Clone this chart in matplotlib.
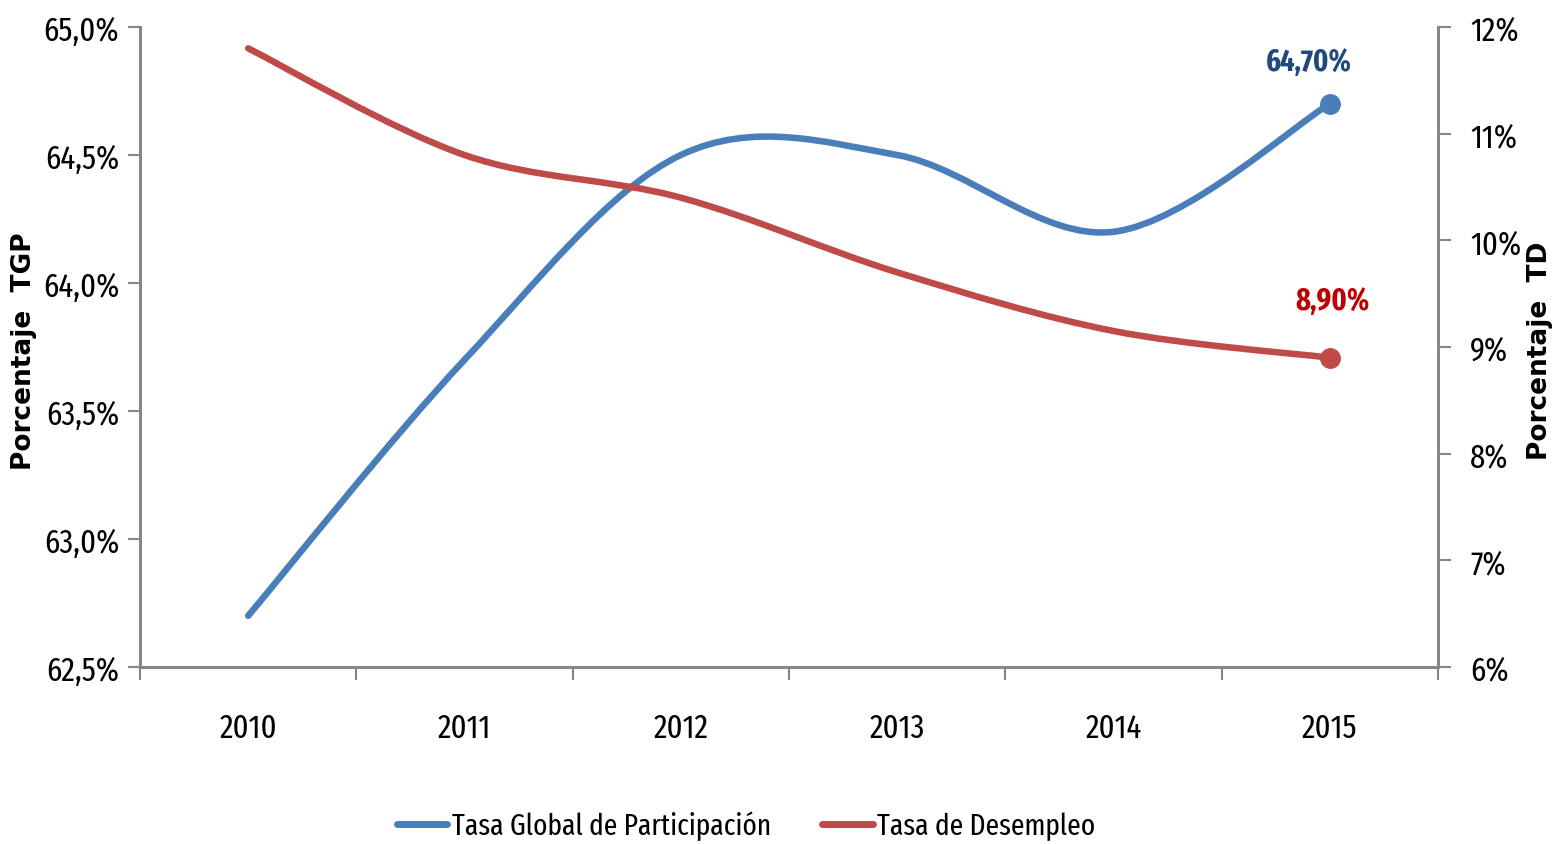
import matplotlib
matplotlib.use("Agg")
import matplotlib.pyplot as plt
from matplotlib.path import Path
from matplotlib.patches import PathPatch
from matplotlib.lines import Line2D
from matplotlib import font_manager as fm

years = ["2010", "2011", "2012", "2013", "2014", "2015"]
tgp = [62.7, 63.7, 64.5, 64.5, 64.2, 64.7]
td = [11.8, 10.8, 10.4, 9.7, 9.15, 8.9]
left_ticks = [62.5, 63.0, 63.5, 64.0, 64.5, 65.0]
right_ticks = [6, 7, 8, 9, 10, 11, 12]
series_names = ["Tasa Global de Participación", "Tasa de Desempleo"]
tgp_label = "64,70%"
td_label = "8,90%"

names = {f.name for f in fm.fontManager.ttflist}
narrow = "Fira Sans Extra Condensed" if "Fira Sans Extra Condensed" in names else "DejaVu Sans"
FONT = [narrow, "DejaVu Sans"]

BLUE = "#4A7EBB"
RED = "#BE4B48"
GREY = "#868686"

fig = plt.figure(figsize=(15.54, 8.45), dpi=100)
ax = fig.add_axes([140/1554, 1-668/845, (1438-140)/1554, (668-28)/845])
ax2 = ax.twinx()

xs = [i + 0.5 for i in range(len(years))]


def smooth_path(x, y):
    n = len(x)
    verts = [(x[0], y[0])]
    codes = [Path.MOVETO]
    for i in range(n - 1):
        im1 = max(i - 1, 0)
        ip2 = min(i + 2, n - 1)
        c1 = (x[i] + (x[i + 1] - x[im1]) / 6, y[i] + (y[i + 1] - y[im1]) / 6)
        c2 = (x[i + 1] - (x[ip2] - x[i]) / 6, y[i + 1] - (y[ip2] - y[i]) / 6)
        verts += [c1, c2, (x[i + 1], y[i + 1])]
        codes += [Path.CURVE4] * 3
    return Path(verts, codes)


lw = 4.7
ax.add_patch(PathPatch(smooth_path(xs, tgp), fill=False, edgecolor=BLUE, lw=lw,
                       capstyle="round", joinstyle="round", zorder=3))
ax2.add_patch(PathPatch(smooth_path(xs, td), fill=False, edgecolor=RED, lw=lw,
                        capstyle="round", joinstyle="round", zorder=3))
ax.plot([xs[-1]], [tgp[-1]], marker="o", ms=14, color=BLUE, zorder=4)
ax2.plot([xs[-1]], [td[-1]], marker="o", ms=14, color=RED, zorder=4)

ax.set_xlim(0, 6)
ax.set_ylim(62.5, 65.0)
ax2.set_ylim(6, 12)

ax.set_yticks(left_ticks)
ax.set_yticklabels([f"{v:.1f}%".replace(".", ",") for v in left_ticks])
ax2.set_yticks(right_ticks)
ax2.set_yticklabels([f"{v}%" for v in right_ticks])

ax.set_xticks(range(0, 7))
ax.set_xticklabels([])
ax.set_xticks(xs, minor=True)
ax.set_xticklabels(years, minor=True)
ax.tick_params(axis="x", which="minor", length=0, pad=32)
ax.tick_params(axis="x", which="major", length=9, width=1.5, color=GREY, direction="out")
ax.tick_params(axis="y", length=9, width=1.5, color=GREY, pad=6)
ax2.tick_params(axis="y", length=9, width=1.5, color=GREY, pad=14)

for a in (ax, ax2):
    for lab in a.get_yticklabels() + a.get_xticklabels(minor=True):
        lab.set_fontfamily(FONT)
        lab.set_fontsize(24)
    for s in a.spines.values():
        s.set_color(GREY)
        s.set_linewidth(2)
    a.spines["top"].set_visible(False)

fig.text(24/1554, 1-351/845, "Porcentaje  TGP", rotation=90, ha="center", va="center",
         fontsize=19, fontweight="bold", family="DejaVu Sans")
fig.text(1540/1554, 1-351/845, "Porcentaje  TD", rotation=90, ha="center", va="center",
         fontsize=19, fontweight="bold", family="DejaVu Sans")

ax.annotate(tgp_label, (xs[-1], tgp[-1]), xytext=(-15, 30), textcoords="offset points",
            ha="center", va="center", fontsize=22, fontweight="bold", color="#1F497D",
            family=FONT)
ax2.annotate(td_label, (xs[-1], td[-1]), xytext=(2, 41), textcoords="offset points",
             ha="center", va="center", fontsize=22, fontweight="bold", color="#C00000",
             family=FONT)

handles = [Line2D([], [], color=BLUE, lw=5, solid_capstyle="round"),
           Line2D([], [], color=RED, lw=5, solid_capstyle="round")]
fig.legend(handles, series_names, loc="center", bbox_to_anchor=(0.48, 0.022), ncol=2,
           frameon=False, prop={"family": FONT, "size": 21.5}, handlelength=1.7,
           handletextpad=0.15, columnspacing=1.7)

fig.savefig("out.png", dpi=100)
